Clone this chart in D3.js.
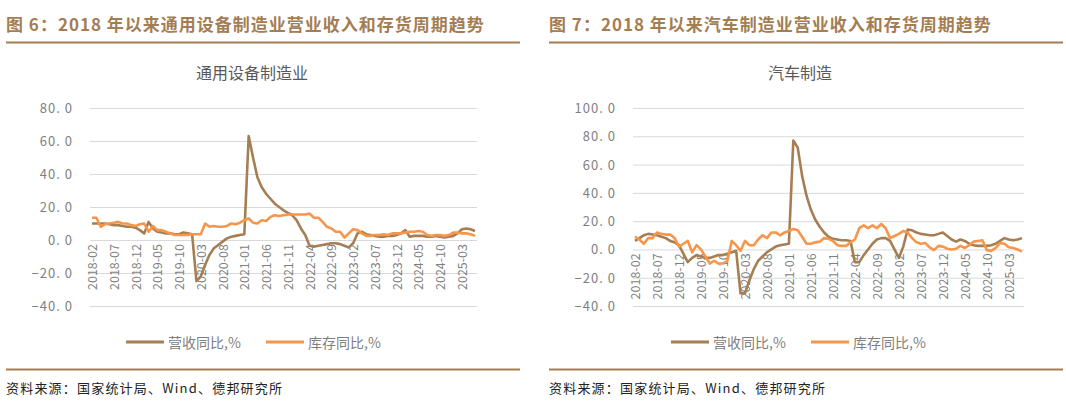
<!DOCTYPE html>
<html><head><meta charset="utf-8">
<script src="https://cdn.jsdelivr.net/npm/d3@7"></script>
<style>
body{margin:0;background:#fff;}
text{font-family:"Noto Sans CJK SC",sans-serif;}
</style></head>
<body><svg id="chart" width="1066" height="410"></svg>
<script>
// months 2018-02 .. 2025-06
const months = [];
for (let y = 2018; y <= 2025; y++) for (let m = 1; m <= 12; m++) {
  if ((y === 2018 && m < 2) || (y === 2025 && m > 6)) continue;
  months.push(y + '-' + String(m).padStart(2, '0'));
}

// 通用设备制造业
const genRevenue = [].concat(
  [10,10,10,10,9.5,9,9,8.5,8,8,7.5],
  [6,4,11,7,5,4.5,4,4,3.5,3.5,4.5,4],
  [3.5,-25,-22,-15,-9,-5,-3,-1,1,2,2.5,3],
  [3.5,63,50,38,32,28,25,22,20,18,16.5,15],
  [12,7,3,-3.5,-4,-3.5,-3,-2.5,-2,-2,-2.5,-3.5],
  [-4.5,-2,4,5,3.5,3,2.5,2,2,2.5,2.5,3],
  [4,6,2,2.5,2.5,2.5,2,2,2.5,2,1.5,2],
  [2.5,4,6.5,7,6.5,5.5]
);
const genInventory = [].concat(
  [13.5,13.5,8,9.5,10,10.5,11,10,10,9,8.5],
  [9.5,10,5,8.5,6,6,5,4,3,3,3,3],
  [3.5,3.5,3.5,10,8,8.5,8,8,8.5,10,9.5,10.5],
  [12,13,10.5,10,12,11.5,14,15,14.5,15,15.5,15.5],
  [15.5,15.5,15.5,16,13.5,13.5,11,8,7,5,5,1.5],
  [4,6.5,6,4,2.5,2.5,3,3,3.5,3,4,4],
  [4,4.5,5,5,5.5,5,3,2.5,3,3,2.5,3],
  [4.5,4.5,4,4,3.5,2.5]
);
// 汽车制造
const autoRevenue = [].concat(
  [6,8,10,11,10.5,10,9,8,6,5,3],
  [-3,-9,-6,-4,-5,-6,-6,-5,-4,-4,-3,-2],
  [-1,-31,-31,-22,-14,-8,-5,-2,0,2,3,3.5],
  [4,77,72,52,38,28,21,16,12,9,7.5,7],
  [6.5,6.5,6,-9,-9,-4,0,4,7,8,8,6],
  [0,-6,2,14,13.5,12,11,10.5,10,10,11,12],
  [9.5,7,5.5,7,6,4,3,2.5,2.5,2.5,3,4],
  [6,8,7,6.5,7,8]
);
const autoInventory = [].concat(
  [9,7,4,8,8,12,11,10.5,10.5,8,2],
  [4,6,-2,3,0,-5,-10,-8,-10,-10,-8,6],
  [3,-1,6,3,3,7,10,8,12,12,10,12],
  [13,14.5,13.5,9,4,4,5,5.5,8,7.5,6,3],
  [2.5,2.5,5,7,15,17,15,17,15,18,15,8],
  [9.5,11,13,12,8,5,4,4.5,1.5,-0.5,2.5,2],
  [0.5,0,0.5,2.5,1,3,5.5,6,6.5,-0.5,-1,1],
  [4.5,4,1.5,1,0,-1.5]
);

const leftTicks = [-40,-20,0,20,40,60,80];
const rightTicks = [-40,-20,0,20,40,60,80,100];
const seriesNames = ['营收同比,%', '库存同比,%'];
const colors = ['#a57f53', '#f7964a'];
const titleColor = '#a47d53';

const svg = d3.select('#chart');

function panel(ox, cfg) {
  const g = svg.append('g').attr('transform', 'translate(' + ox + ',0)');
  g.append('text').attr('x', 6).attr('y', 31).attr('fill', titleColor)
    .attr('font-size', 17).attr('font-weight', 'bold').attr('letter-spacing', 1).text(cfg.title);
  g.append('line').attr('x1', 6).attr('x2', 520).attr('y1', 42.5).attr('y2', 42.5)
    .attr('stroke', titleColor).attr('stroke-width', 2);
  g.append('line').attr('x1', 6).attr('x2', 520).attr('y1', 369.5).attr('y2', 369.5)
    .attr('stroke', titleColor).attr('stroke-width', 2);
  g.append('text').attr('x', 6).attr('y', 393).attr('font-size', 13).attr('letter-spacing', 1.2)
    .attr('fill', '#222').text('资料来源：国家统计局、Wind、德邦研究所');
  g.append('text').attr('x', cfg.subX).attr('y', 79).attr('text-anchor', 'middle')
    .attr('font-size', 16).attr('fill', '#595959').text(cfg.sub);

  const x = d3.scalePoint().domain(months).range([cfg.x0, cfg.x1]);
  const y = d3.scaleLinear().domain(d3.extent(cfg.ticks)).range([306, 108]);

  g.append('g').selectAll('line').data(cfg.ticks).join('line')
    .attr('x1', cfg.x0 - 2).attr('x2', cfg.x1 + 2)
    .attr('y1', d => y(d) + 0.5).attr('y2', d => y(d) + 0.5)
    .attr('stroke', '#d9d9d9').attr('stroke-width', 1);
  g.append('g').selectAll('text').data(cfg.ticks).join('text')
    .attr('x', cfg.x0 - 19).attr('y', d => y(d) + 5).attr('text-anchor', 'end')
    .attr('font-size', 13).attr('fill', '#7f7f7f').attr('letter-spacing', 1)
    .attr('font-family', '"DejaVu Serif", serif')
    .text(d => d3.format('.1f')(d).replace('.', '. '));

  const lab = months.filter((d, i) => i % 5 === 0);
  g.append('g').selectAll('text').data(lab).join('text')
    .attr('transform', d => 'translate(' + (x(d) + 5) + ',' + (y(0) + 4) + ') rotate(-90)')
    .attr('text-anchor', 'end').attr('font-size', 12.5).attr('fill', '#7f7f7f')
    .attr('font-family', '"DejaVu Serif", serif')
    .text(d => d);

  const line = d3.line().x((d, i) => x(months[i])).y(d => y(d));
  [cfg.rev, cfg.inv].forEach((s, k) => {
    g.append('path').attr('d', line(s)).attr('fill', 'none')
      .attr('stroke', colors[k]).attr('stroke-width', 2.6).attr('stroke-linejoin', 'round');
  });

  seriesNames.forEach((n, k) => {
    const lx = cfg.legX + k * 140;
    g.append('line').attr('x1', lx).attr('x2', lx + 38).attr('y1', 342).attr('y2', 342)
      .attr('stroke', colors[k]).attr('stroke-width', 3);
    g.append('text').attr('x', lx + 42).attr('y', 348).attr('font-size', 14)
      .attr('fill', '#7f7f7f').text(n);
  });
}

panel(0, {
  title: '图 6：2018 年以来通用设备制造业营业收入和存货周期趋势',
  sub: '通用设备制造业', subX: 252, x0: 92, x1: 475, ticks: leftTicks,
  rev: genRevenue, inv: genInventory, legX: 126
});
panel(543, {
  title: '图 7：2018 年以来汽车制造业营业收入和存货周期趋势',
  sub: '汽车制造', subX: 257, x0: 92, x1: 479, ticks: rightTicks,
  rev: autoRevenue, inv: autoInventory, legX: 128
});
</script></body></html>
